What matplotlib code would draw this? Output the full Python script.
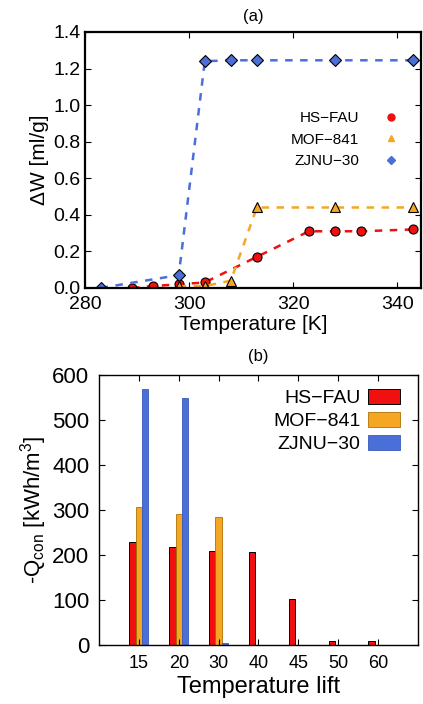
import numpy as np
import matplotlib
matplotlib.use("Agg")
import matplotlib.pyplot as plt
from matplotlib.lines import Line2D

plt.rcParams['font.family'] = ['Liberation Sans', 'DejaVu Sans']
plt.rcParams['mathtext.default'] = 'regular'

# (a) ΔW vs temperature
hs_T = [289, 293, 298, 303, 313, 323, 328, 333, 343]
hs_W = [0.0, 0.01, 0.02, 0.03, 0.17, 0.31, 0.31, 0.31, 0.32]
mof_T = [298, 303, 308, 313, 328, 343]
mof_W = [0.01, 0.01, 0.04, 0.44, 0.44, 0.44]
zj_T = [283, 298, 303, 308, 313, 328, 343]
zj_W = [0.0, 0.07, 1.24, 1.245, 1.245, 1.245, 1.245]

# (b) condenser heat vs temperature lift
lifts = ['15', '20', '30', '40', '45', '50', '60']
q_hs = [229, 217, 210, 207, 103, 9, 9]
q_mof = [306, 292, 284, 0, 0, 0, 0]
q_zj = [569, 550, 4, 0, 0, 0, 0]

names = ['HS\u2212FAU', 'MOF\u2212841', 'ZJNU\u221230']
red, orange, blue = '#f01010', '#f5a623', '#4a6fd8'

fig = plt.figure(figsize=(4.23, 7.04), dpi=100)

ax1 = fig.add_axes([0.201, 0.591, 0.794, 0.3636])
ax1.plot(hs_T, hs_W, ls=(0, (3, 3)), lw=1.8, color=red, marker='o', ms=6.5,
         mfc=red, mec='black', mew=0.8)
ax1.plot(mof_T, mof_W, ls=(0, (3, 3)), lw=1.8, color=orange, marker='^', ms=7,
         mfc=orange, mec='black', mew=0.8)
ax1.plot(zj_T, zj_W, ls=(0, (3, 3)), lw=1.8, color=blue, marker='D', ms=6,
         mfc=blue, mec='black', mew=0.8)
ax1.set_xlim(280, 344.5)
ax1.set_ylim(0, 1.4)
ax1.set_xticks([280, 300, 320, 340])
ax1.set_yticks(np.arange(0, 1.41, 0.2))
ax1.yaxis.set_major_formatter(matplotlib.ticker.FormatStrFormatter('%.1f'))
ax1.tick_params(direction='in', top=True, right=True, labelsize=14, length=4)
ax1.tick_params(axis='x', pad=6)
ax1.tick_params(axis='y', pad=3)
for s in ax1.spines.values():
    s.set_linewidth(1.6)
ax1.set_xlabel('Temperature [K]', fontsize=15, labelpad=1)
ax1.set_ylabel('\u0394W [ml/g]', fontsize=15, labelpad=3)
ax1.set_title('(a)', fontsize=12, pad=8)
h1 = [Line2D([], [], ls='none', marker='o', ms=5, color=red),
      Line2D([], [], ls='none', marker='^', ms=5, color=orange),
      Line2D([], [], ls='none', marker='D', ms=4.5, color=blue)]
ax1.legend(h1, names, loc='upper right', bbox_to_anchor=(0.985, 0.745), frameon=False,
           markerfirst=False, fontsize=11, handlelength=1.5, handletextpad=1.3,
           labelspacing=0.5)

ax2 = fig.add_axes([0.234, 0.0838, 0.754, 0.3835])
x = np.arange(1, len(lifts) + 1)
w = 0.16
ax2.bar(x - w, q_hs, w, color=red, edgecolor='black', linewidth=0.7, label=names[0])
ax2.bar(x, q_mof, w, color=orange, edgecolor='#b07000', linewidth=0.6, label=names[1])
ax2.bar(x + w, q_zj, w, color=blue, edgecolor='#3a5ab8', linewidth=0.6, label=names[2])
ax2.set_xlim(0, 8)
ax2.set_ylim(0, 600)
ax2.set_xticks(x)
ax2.set_xticklabels(lifts)
ax2.set_yticks(np.arange(0, 601, 100))
ax2.tick_params(axis='y', labelsize=16, pad=7)
ax2.tick_params(axis='x', labelsize=13, pad=7)
ax2.tick_params(direction='in', top=True, right=True, length=4)
for s in ax2.spines.values():
    s.set_linewidth(1.0)
ax2.set_xlabel('Temperature lift', fontsize=17, labelpad=3)
ax2.set_ylabel('-Q$_{con}$ [kWh/m$^3$]', fontsize=16, labelpad=2)
ax2.set_title('(b)', fontsize=12, pad=10)
ax2.legend(loc='upper right', bbox_to_anchor=(0.985, 1.0), frameon=False,
           markerfirst=False, fontsize=14, handlelength=1.6, handleheight=0.8,
           handletextpad=0.4, labelspacing=0.25, borderaxespad=0.3)

fig.savefig('out.png', dpi=100)
